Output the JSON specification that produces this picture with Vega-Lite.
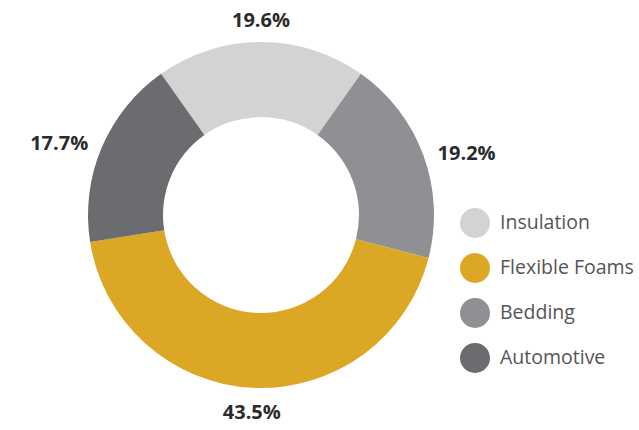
{
  "$schema": "https://vega.github.io/schema/vega-lite/v6.json",
  "width": 522,
  "height": 430,
  "autosize": {"type": "none"},
  "padding": {"left": 0, "top": 0, "right": 117, "bottom": 0},
  "background": "white",
  "config": {"view": {"stroke": null}},
  "data": {
    "values": [
      {"Category": "Insulation", "Share": 0.196, "Rank": 1},
      {"Category": "Bedding", "Share": 0.192, "Rank": 2},
      {"Category": "Flexible Foams", "Share": 0.435, "Rank": 3},
      {"Category": "Automotive", "Share": 0.177, "Rank": 4}
    ]
  },
  "encoding": {
    "theta": {"field": "Share", "type": "quantitative", "stack": true, "scale": {"range": [-0.6158, 5.6674]}},
    "order": {"field": "Rank", "type": "quantitative"}
  },
  "layer": [
    {
      "mark": {"type": "arc", "outerRadius": 173, "innerRadius": 98},
      "encoding": {
        "color": {
          "field": "Category",
          "type": "nominal",
          "scale": {
            "domain": ["Insulation", "Flexible Foams", "Bedding", "Automotive"],
            "range": ["#d3d3d3", "#dba724", "#8f9094", "#6b6c70"]
          },
          "legend": {
            "orient": "none",
            "legendX": 460,
            "legendY": 208,
            "title": null,
            "symbolType": "circle",
            "symbolSize": 900,
            "symbolStrokeWidth": 0,
            "labelFontSize": 19.5,
            "labelFont": "Open Sans",
            "labelColor": "#555555",
            "rowPadding": 15,
            "labelOffset": 10,
            "padding": 0
          }
        }
      }
    },
    {
      "mark": {"type": "text", "radius": 196, "dy": 2, "fontSize": 20, "fontWeight": "bold", "font": "Open Sans", "color": "#2b2b2b", "baseline": "middle", "align": "center"},
      "encoding": {
        "detail": {"field": "Category"},
        "text": {"field": "Share", "type": "quantitative", "format": ".1%"},
        "opacity": {"condition": {"test": "datum.Category === 'Insulation' || datum.Category === 'Flexible Foams'", "value": 1}, "value": 0}
      }
    },
    {
      "mark": {"type": "text", "radius": 219, "dy": 14, "fontSize": 20, "fontWeight": "bold", "font": "Open Sans", "color": "#2b2b2b", "baseline": "middle", "align": "center"},
      "encoding": {
        "detail": {"field": "Category"},
        "text": {"field": "Share", "type": "quantitative", "format": ".1%"},
        "opacity": {"condition": {"test": "datum.Category === 'Bedding' || datum.Category === 'Automotive'", "value": 1}, "value": 0}
      }
    }
  ]
}
